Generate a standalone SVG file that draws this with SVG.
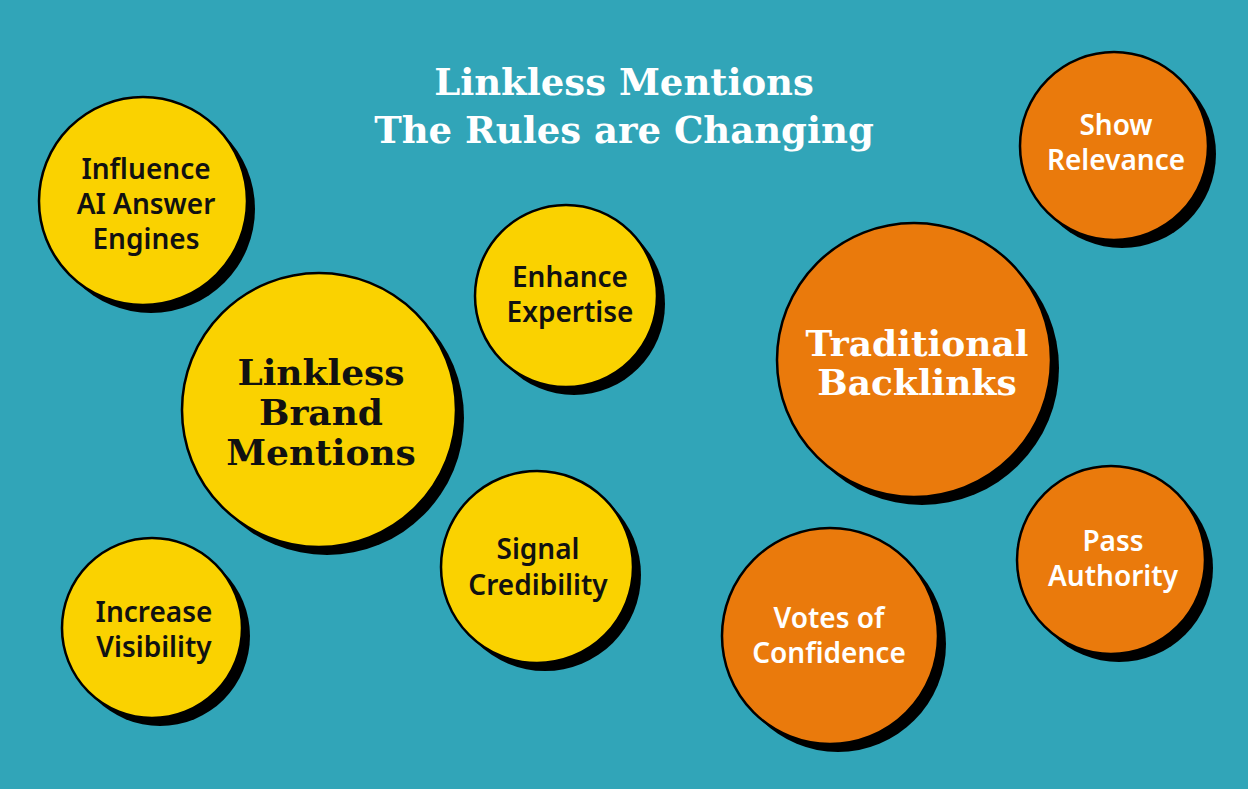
<svg xmlns="http://www.w3.org/2000/svg" width="1248" height="789" viewBox="0 0 1248 789">
<style>
.sh{fill:#000}
.y{fill:#FAD200;stroke:#000;stroke-width:2.5}
.o{fill:#EA7A0C;stroke:#000;stroke-width:2.5}
.t{font-family:"Noto Sans","Open Sans",sans-serif;font-weight:600;font-size:28px;text-anchor:middle}
.d{fill:#111}
.w{fill:#fff}
.s{font-family:"DejaVu Serif","Liberation Serif",serif;font-weight:bold;text-anchor:middle}
</style>
<rect width="1248" height="789" fill="#31A5B8"/>
<g id="title">
<text class="s w" x="624" y="95" font-size="37">Linkless Mentions</text>
<text class="s w" x="624" y="143" font-size="37">The Rules are Changing</text>
</g>
<g id="influence">
<circle class="sh" cx="151" cy="209" r="104"/>
<circle class="y" cx="143" cy="201" r="104"/>
<text class="t d" x="146" y="179">Influence</text>
<text class="t d" x="146" y="214">AI Answer</text>
<text class="t d" x="146" y="249">Engines</text>
</g>
<g id="linkless">
<circle class="sh" cx="327" cy="418" r="137"/>
<circle class="y" cx="319" cy="410" r="137"/>
<text class="s d" x="321" y="385" font-size="36">Linkless</text>
<text class="s d" x="321" y="425" font-size="36">Brand</text>
<text class="s d" x="321" y="465" font-size="36">Mentions</text>
</g>
<g id="enhance">
<circle class="sh" cx="574" cy="304" r="91"/>
<circle class="y" cx="566" cy="296" r="91"/>
<text class="t d" x="570" y="287">Enhance</text>
<text class="t d" x="570" y="322">Expertise</text>
</g>
<g id="signal">
<circle class="sh" cx="545" cy="575" r="96"/>
<circle class="y" cx="537" cy="567" r="96"/>
<text class="t d" x="538" y="559">Signal</text>
<text class="t d" x="538" y="595">Credibility</text>
</g>
<g id="increase">
<circle class="sh" cx="160" cy="636" r="90"/>
<circle class="y" cx="152" cy="628" r="90"/>
<text class="t d" x="154" y="622">Increase</text>
<text class="t d" x="154" y="657">Visibility</text>
</g>
<g id="traditional">
<circle class="sh" cx="922" cy="368" r="137"/>
<circle class="o" cx="914" cy="360" r="137"/>
<text class="s w" x="917" y="356" font-size="36">Traditional</text>
<text class="s w" x="917" y="395" font-size="36">Backlinks</text>
</g>
<g id="show">
<circle class="sh" cx="1122" cy="154" r="94"/>
<circle class="o" cx="1114" cy="146" r="94"/>
<text class="t w" x="1116" y="135">Show</text>
<text class="t w" x="1116" y="170">Relevance</text>
</g>
<g id="pass">
<circle class="sh" cx="1119" cy="568" r="94"/>
<circle class="o" cx="1111" cy="560" r="94"/>
<text class="t w" x="1113" y="551">Pass</text>
<text class="t w" x="1113" y="586">Authority</text>
</g>
<g id="votes">
<circle class="sh" cx="838" cy="644" r="108"/>
<circle class="o" cx="830" cy="636" r="108"/>
<text class="t w" x="829" y="628">Votes of</text>
<text class="t w" x="829" y="663">Confidence</text>
</g>
<g id="connectors"></g>
</svg>
